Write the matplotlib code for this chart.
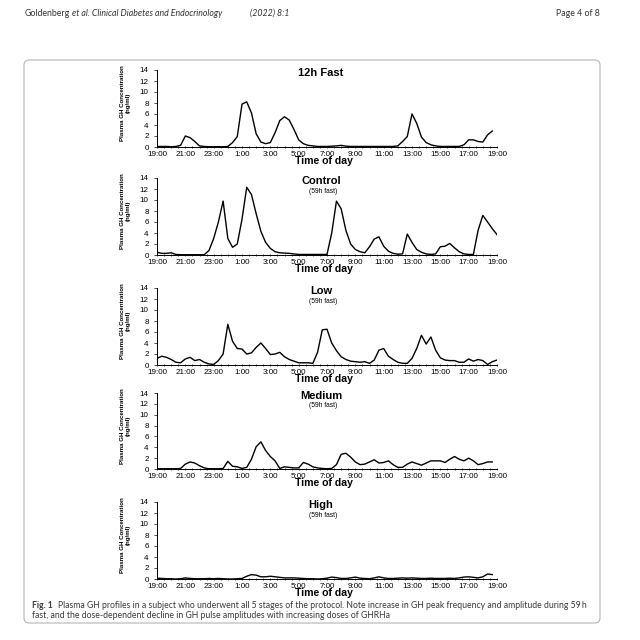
import matplotlib.pyplot as plt
import numpy as np
from matplotlib.patches import FancyBboxPatch

# GH concentration (ng/ml), one sample every 20 min starting 19:00
fast12 = [0.1, 0.1, 0.1, 0.05, 0.1, 0.3, 2.0, 1.7, 1.0, 0.2,
          0.1, 0.05, 0.05, 0.05, 0.05, 0.1, 0.8, 1.9, 7.8, 8.2,
          6.2, 2.4, 0.9, 0.6, 0.8, 2.6, 4.8, 5.5, 4.9, 3.2,
          1.3, 0.6, 0.3, 0.2, 0.1, 0.1, 0.1, 0.15, 0.2, 0.3,
          0.15, 0.1, 0.1, 0.1, 0.1, 0.1, 0.1, 0.1, 0.1, 0.1,
          0.1, 0.2, 1.0, 1.9, 6.0, 4.3, 1.8, 0.8, 0.4, 0.2,
          0.1, 0.1, 0.1, 0.1, 0.1, 0.4, 1.3, 1.3, 1.0, 0.9,
          2.2, 2.9]
control = [0.5, 0.3, 0.3, 0.4, 0.1, 0.05, 0.05, 0.05, 0.05, 0.05,
           0.05, 0.8, 3.0, 6.0, 9.8, 3.0, 1.4, 2.0, 6.5, 12.3,
           11.0, 7.5, 4.3, 2.3, 1.2, 0.6, 0.4, 0.35, 0.3, 0.2,
           0.1, 0.1, 0.1, 0.1, 0.1, 0.1, 0.1, 4.0, 9.8, 8.4,
           4.5, 2.0, 1.0, 0.6, 0.4, 1.5, 2.9, 3.3, 1.6, 0.7,
           0.3, 0.15, 0.2, 3.8, 2.3, 1.0, 0.5, 0.2, 0.1, 0.2,
           1.5, 1.6, 2.1, 1.3, 0.6, 0.2, 0.1, 0.1, 4.5, 7.2,
           6.0, 4.8, 3.7]
low = [1.2, 1.6, 1.4, 1.0, 0.5, 0.4, 1.1, 1.4, 0.8, 1.0,
       0.5, 0.2, 0.1, 0.8, 2.0, 7.4, 4.3, 3.0, 2.9, 2.0,
       2.2, 3.2, 4.0, 3.0, 1.9, 2.0, 2.3, 1.5, 1.0, 0.7,
       0.4, 0.4, 0.4, 0.3, 2.3, 6.4, 6.5, 4.0, 2.6, 1.5,
       1.0, 0.7, 0.6, 0.5, 0.6, 0.3, 0.9, 2.7, 3.0, 1.6,
       1.0, 0.5, 0.3, 0.3, 1.2, 3.0, 5.4, 3.8, 5.1, 2.7,
       1.3, 0.9, 0.8, 0.8, 0.5, 0.5, 1.1, 0.7, 1.0, 0.8,
       0.1, 0.6, 0.9]
medium = [0.05, 0.05, 0.05, 0.05, 0.05, 0.1, 0.9, 1.3, 1.1, 0.6,
          0.2, 0.05, 0.05, 0.05, 0.1, 1.4, 0.5, 0.4, 0.1, 0.3,
          1.8, 4.1, 5.0, 3.4, 2.3, 1.5, 0.1, 0.4, 0.3, 0.2,
          0.2, 1.2, 0.9, 0.4, 0.2, 0.1, 0.05, 0.1, 0.8, 2.7,
          2.9, 2.2, 1.3, 0.8, 0.9, 1.3, 1.7, 1.1, 1.2, 1.5,
          0.8, 0.3, 0.3, 0.9, 1.3, 1.0, 0.7, 1.1, 1.5, 1.5,
          1.5, 1.2, 1.8, 2.3, 1.8, 1.5, 2.0, 1.5, 0.8, 1.0,
          1.3, 1.3]
high = [0.15, 0.1, 0.05, 0.05, 0.0, 0.05, 0.2, 0.1, 0.05, 0.05,
        0.05, 0.1, 0.05, 0.1, 0.05, 0.0, 0.0, 0.05, 0.1, 0.5,
        0.8, 0.7, 0.4, 0.4, 0.5, 0.4, 0.3, 0.2, 0.2, 0.2,
        0.15, 0.1, 0.05, 0.05, 0.0, 0.05, 0.15, 0.35, 0.25, 0.1,
        0.1, 0.2, 0.35, 0.15, 0.1, 0.05, 0.2, 0.4, 0.2, 0.1,
        0.1, 0.15, 0.2, 0.15, 0.2, 0.15, 0.1, 0.1, 0.15, 0.1,
        0.1, 0.1, 0.15, 0.1, 0.2, 0.35, 0.4, 0.3, 0.2, 0.4,
        0.9, 0.8]

series = [fast12, control, low, medium, high]
titles = ['12h Fast', 'Control', 'Low', 'Medium', 'High']
subtitles = [None, '(59h fast)', '(59h fast)', '(59h fast)', '(59h fast)']
hour_labels = ['19:00', '21:00', '23:00', '1:00', '3:00', '5:00', '7:00',
               '9:00', '11:00', '13:00', '15:00', '17:00', '19:00']

# panel top/bottom in pixels (from top of the page)
panel_px = [(70, 147), (178, 255), (288, 365), (393, 469), (502, 579)]
left_px, right_px = 157, 497

W = H = 640
fig = plt.figure(figsize=(6.4, 6.4), dpi=100)
plt.rcParams['font.family'] = ['Liberation Sans', 'DejaVu Sans']

for vals, title, sub, (top, bot) in zip(series, titles, subtitles, panel_px):
    ax = fig.add_axes([left_px / W, 1 - bot / H, (right_px - left_px) / W, (bot - top) / H])
    t = np.arange(len(vals)) / 3.0
    ax.plot(t, vals, color='black', lw=1.0)
    ax.set_xlim(0, 24)
    ax.set_ylim(0, 14)
    ax.set_yticks(np.arange(0, 15, 2))
    ax.set_xticks(np.arange(0, 25, 2))
    ax.set_xticklabels(hour_labels)
    ax.set_xticks(np.arange(0, 24.1, 0.5), minor=True)
    ax.spines['top'].set_visible(False)
    ax.spines['right'].set_visible(False)
    for s in ('left', 'bottom'):
        ax.spines[s].set_linewidth(0.7)
    ax.tick_params(axis='x', which='major', labelsize=5.8, length=2, width=0.5, pad=1.6, direction='inout')
    ax.tick_params(axis='x', which='minor', length=2, width=0.5, direction='inout')
    ax.tick_params(axis='y', labelsize=5.8, length=2.5, width=0.5, pad=3.5)
    ax.set_xlabel('Time of day', fontsize=7.6, fontweight='bold')
    ax.xaxis.set_label_coords(0.491, -0.12)
    ax.set_ylabel('Plasma GH Concentration\n(ng/ml)', fontsize=4.4, fontweight='bold', linespacing=1.15)
    ax.yaxis.set_label_coords(-0.078, 0.57)
    ax.text(0.482, 0.965, title, transform=ax.transAxes, ha='center', va='center',
            fontsize=8, fontweight='bold')
    if sub:
        ax.text(0.488, 0.83, sub, transform=ax.transAxes, ha='center', va='center', fontsize=4.8)

# page frame and header / caption
box = FancyBboxPatch((24 / W, 1 - 623 / H), (600 - 24) / W, (623 - 60) / H,
                     boxstyle='round,pad=0,rounding_size=0.008', transform=fig.transFigure,
                     facecolor='none', edgecolor='#b5b5b5', lw=0.8)
fig.patches.append(box)

hdr = dict(fontsize=6.3, color='#333333', va='center', family=['Lato', 'DejaVu Sans'])
fig.text(25 / W, 1 - 13 / H, 'Goldenberg', **hdr)
fig.text(72 / W, 1 - 13 / H, 'et al. Clinical Diabetes and Endocrinology', style='italic', **hdr)
fig.text(250 / W, 1 - 13 / H, '(2022) 8:1', style='italic', **hdr)
fig.text(600 / W, 1 - 13 / H, 'Page 4 of 8', ha='right', **hdr)

cap = dict(fontsize=6.2, color='#3a3a3a', va='center', family=['Lato', 'DejaVu Sans'])
fig.text(32 / W, 1 - 605 / H, 'Fig. 1', fontweight='bold', **cap)
fig.text(58 / W, 1 - 605 / H, 'Plasma GH profiles in a subject who underwent all 5 stages of the protocol. '
         'Note increase in GH peak frequency and amplitude during 59\u2009h', **cap)
fig.text(32 / W, 1 - 615 / H, 'fast, and the dose-dependent decline in GH pulse amplitudes '
         'with increasing doses of GHRHa', **cap)

fig.savefig('out.png', dpi=100, facecolor='white')
